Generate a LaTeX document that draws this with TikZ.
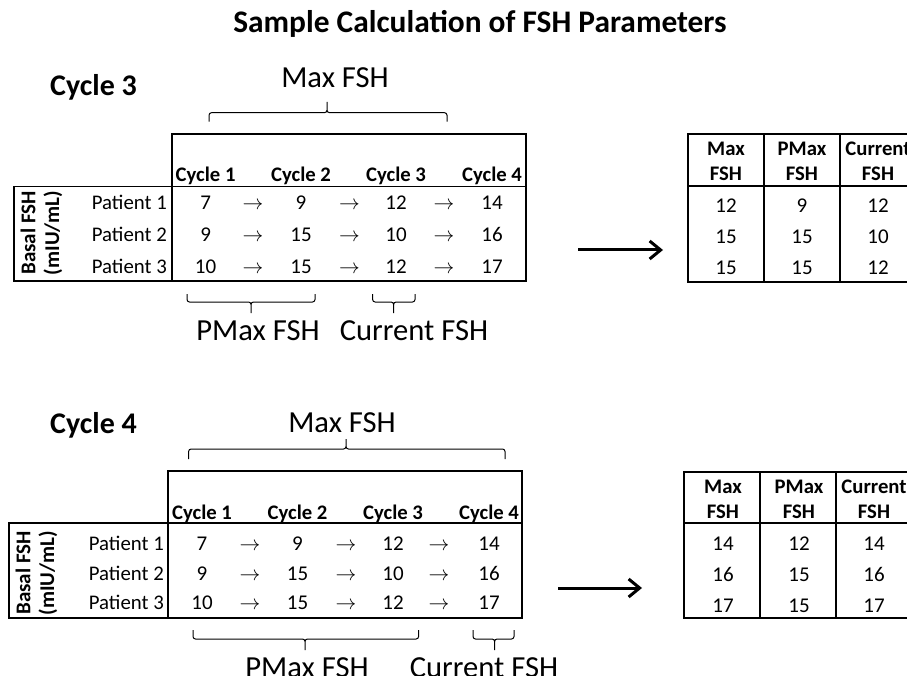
\documentclass[tikz,border=0pt]{standalone}
\usepackage{fontspec}
\setmainfont{Carlito}
\usetikzlibrary{arrows.meta}

\begin{document}
\begin{tikzpicture}[x=1pt, y=-1pt]
    % スタイル定義
    \tikzstyle{title} = [font=\fontsize{31.4}{34}\selectfont\bfseries, anchor=base, inner sep=0pt]
    \tikzstyle{cyclelabel} = [font=\fontsize{30}{32}\selectfont\bfseries, anchor=base west, inner sep=0pt]
    \tikzstyle{bracelabel} = [font=\fontsize{30.6}{32}\selectfont, anchor=base, inner sep=0pt]
    \tikzstyle{colhead} = [font=\fontsize{20.7}{22}\selectfont\bfseries, anchor=base, inner sep=0pt]
    \tikzstyle{val} = [font=\fontsize{21}{22}\selectfont, anchor=base, inner sep=0pt]
    \tikzstyle{rowhead} = [font=\fontsize{20.8}{22}\selectfont, anchor=base east, inner sep=0pt]
    \tikzstyle{unit} = [font=\fontsize{21}{22}\selectfont\bfseries, rotate=90, inner sep=0pt]
    \tikzstyle{rule} = [draw, line width=1.2pt]
    \tikzstyle{brace} = [draw, line width=1pt, rounded corners=2.5pt]
    \tikzstyle{line} = [draw, line width=3pt, -{Straight Barb[length=11pt, width=18pt]}]

    \useasboundingbox (0,0) rectangle (907,676);

    \node [title] (title) at (480,33) {Sample Calculation of FSH Parameters};

    % Cycle 3
    \node [cyclelabel] (c3) at (50,96) {Cycle 3};
    \node [bracelabel] (c3max) at (335,88) {Max FSH};
    \draw [brace] (209,121.7) -- (209,112.7) -- (327,112.7) -- (327,102)
                  (447,121.7) -- (447,112.7) -- (327,112.7) -- (327,102);

    \draw [rule] (172,134) rectangle (526,281);
    \draw [rule] (14,186.7) rectangle (526,281);
    \foreach \x/\n in {205.6/1, 301/2, 396/3, 492/4}
        \node [colhead] (c3h\n) at (\x,182) {Cycle \n};
    \foreach \y/\p/\a/\b/\c/\d in {210/1/7/9/12/14, 242/2/9/15/10/16, 273/3/10/15/12/17} {
        \node [rowhead] (c3p\p) at (167,\y) {Patient \p};
        \node [val] (c3v\p a) at (205.6,\y) {\a};
        \node [val] (c3v\p b) at (301,\y) {\b};
        \node [val] (c3v\p c) at (396,\y) {\c};
        \node [val] (c3v\p d) at (492,\y) {\d};
        \foreach \x in {253, 349.5, 444}
            \node [val] at (\x,\y) {$\rightarrow$};
    }
    \node [unit] (c3basal) at (28,233) {Basal FSH};
    \node [unit] (c3miu) at (53,233) {(mIU/mL)};

    \draw [brace] (187,294) -- (187,302) -- (251,302) -- (251,313)
                  (315,294) -- (315,302) -- (251,302) -- (251,313);
    \draw [brace] (372.6,294) -- (372.6,302) -- (393.6,302) -- (393.6,313)
                  (415,294) -- (415,302) -- (393.6,302) -- (393.6,313);
    \node [bracelabel] (c3pmax) at (258,340) {PMax FSH};
    \node [bracelabel] (c3cur) at (414,340) {Current FSH};

    % 結果の表 (Cycle 3)
    \draw [rule] (688,134) rectangle (916,282);
    \draw [rule] (688,186) -- (916,186);
    \draw [rule] (764,134) -- (764,282);
    \draw [rule] (840,134) -- (840,282);
    \foreach \x/\t in {726/Max, 802/PMax, 878/Current} {
        \node [colhead] (r3\t) at (\x,156) {\t};
        \node [colhead] at (\x,181) {FSH};
    }
    \foreach \y/\a/\b/\c in {213/12/9/12, 244/15/15/10, 275/15/15/12} {
        \node [val] at (726,\y) {\a};
        \node [val] at (802,\y) {\b};
        \node [val] at (878,\y) {\c};
    }
    \coordinate (c3from) at (578,250);
    \coordinate (c3to) at (663,250);
    \path [line] (c3from) -- (c3to);

    % Cycle 4
    \node [cyclelabel] (c4) at (50,433) {Cycle 4};
    \node [bracelabel] (c4max) at (342,432) {Max FSH};
    \draw [brace] (188.6,459) -- (188.6,449) -- (346,449) -- (346,439)
                  (505,459) -- (505,449) -- (346,449) -- (346,439);

    \draw [rule] (168,471) rectangle (522,618);
    \draw [rule] (9,523) rectangle (522,618);
    \foreach \x/\n in {202/1, 297.5/2, 393/3, 489/4}
        \node [colhead] (c4h\n) at (\x,519) {Cycle \n};
    \foreach \y/\p/\a/\b/\c/\d in {550/1/7/9/12/14, 580/2/9/15/10/16, 609/3/10/15/12/17} {
        \node [rowhead] (c4p\p) at (164,\y) {Patient \p};
        \node [val] (c4v\p a) at (202,\y) {\a};
        \node [val] (c4v\p b) at (297.5,\y) {\b};
        \node [val] (c4v\p c) at (393,\y) {\c};
        \node [val] (c4v\p d) at (489,\y) {\d};
        \foreach \x in {250, 346, 439}
            \node [val] at (\x,\y) {$\rightarrow$};
    }
    \node [unit] (c4basal) at (23,573) {Basal FSH};
    \node [unit] (c4miu) at (48,573) {(mIU/mL)};

    \draw [brace] (193,630) -- (193,639) -- (305,639) -- (305,650)
                  (418.6,630) -- (418.6,639) -- (305,639) -- (305,650);
    \draw [brace] (473,630) -- (473,639) -- (494.6,639) -- (494.6,650)
                  (514,630) -- (514,639) -- (494.6,639) -- (494.6,650);
    \node [bracelabel] (c4pmax) at (307,677) {PMax FSH};
    \node [bracelabel] (c4cur) at (484,677) {Current FSH};

    % 結果の表 (Cycle 4)
    \draw [rule] (684,472) rectangle (912,618);
    \draw [rule] (684,523) -- (912,523);
    \draw [rule] (760,472) -- (760,618);
    \draw [rule] (836,472) -- (836,618);
    \foreach \x/\t in {723/Max, 799/PMax, 874/Current} {
        \node [colhead] (r4\t) at (\x,493) {\t};
        \node [colhead] at (\x,518) {FSH};
    }
    \foreach \y/\a/\b/\c in {550/14/12/14, 581/16/15/16, 612/17/15/17} {
        \node [val] at (723,\y) {\a};
        \node [val] at (799,\y) {\b};
        \node [val] at (874,\y) {\c};
    }
    \coordinate (c4from) at (558,588);
    \coordinate (c4to) at (642,588);
    \path [line] (c4from) -- (c4to);
\end{tikzpicture}
\end{document}
